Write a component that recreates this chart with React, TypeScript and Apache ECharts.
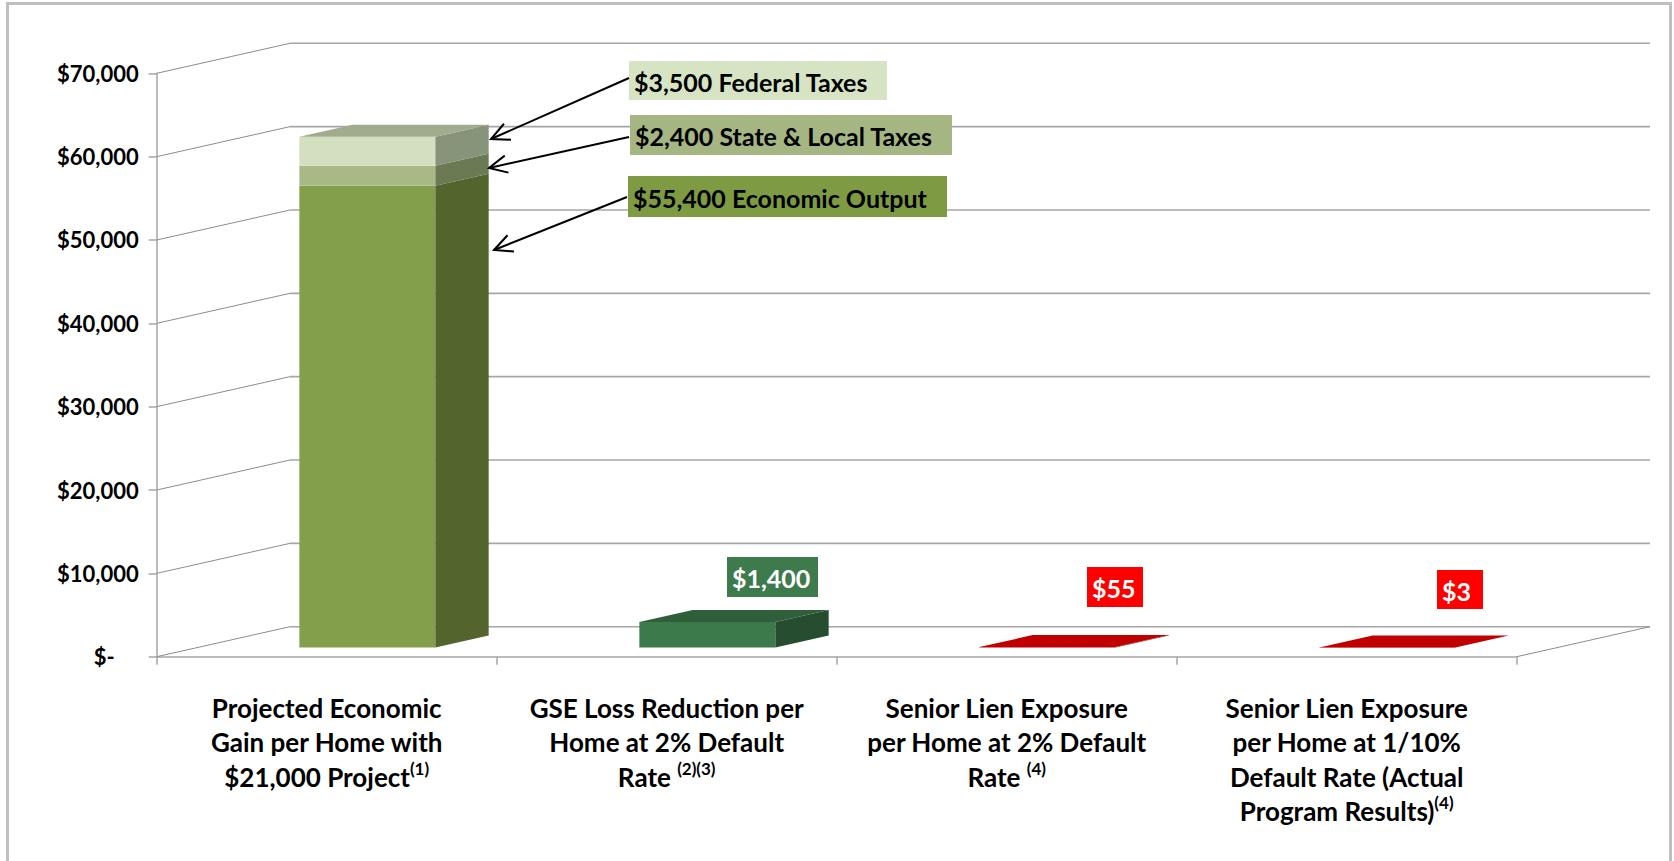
import { useEffect, useRef } from "react";
import * as echarts from "echarts";

// ---------- data ----------
const categoryLines: string[][] = [
  ["Projected Economic", "Gain per Home with", "$21,000 Project"],
  ["GSE Loss Reduction per", "Home at 2% Default", "Rate "],
  ["Senior Lien Exposure", "per Home at 2% Default", "Rate "],
  ["Senior Lien Exposure", "per Home at 1/10%", "Default Rate (Actual", "Program Results)"],
];
const categoryNotes = ["(1)", "(2)(3)", "(4)", "(4)"];
const categories = categoryLines.map((l) => l.join(" "));

const yTicks = [0, 10000, 20000, 30000, 40000, 50000, 60000, 70000];

const gainSegmentValues = [55400, 2400, 3500];
const gainSegmentLabels = ["$55,400 Economic Output", "$2,400 State & Local Taxes", "$3,500 Federal Taxes"];

const otherBarValues = [3070, 55, 3];
const otherBarLabels = ["$1,400", "$55", "$3"];

// ---------- style ----------
const FONT = "Lato";
const DX = 133.3; // depth offset of the back wall
const DY = -30;
const FRONT = 0.305; // bar front face depth fraction
const BDEPTH = 0.4; // bar depth fraction
const BWIDTH = 0.4; // bar width fraction of band

const segStyles = [
  { front: "#849f4b", side: "#53642d", top: "#6f8540" },
  { front: "#a8b986", side: "#6c7a53", top: "#8e9c72" },
  { front: "#d3dfbf", side: "#879479", top: "#a1ab8e" },
  { front: "#3c7a4b", side: "#264d2f", top: "#2f5f3a" },
  { front: "#c00000", side: "#8b0000", top: "#c00000" },
];

const gainBoxes = [
  { x: 628, y: 176, w: 319, h: 41, fill: "#7e9b43", color: "#000", ax: 627, ay: 197, tx: 494, ty: 250 },
  { x: 630, y: 115, w: 322, h: 40, fill: "#a5b682", color: "#000", ax: 629, ay: 137, tx: 489, ty: 168 },
  { x: 629, y: 61, w: 258, h: 39, fill: "#d7e4c4", color: "#000", ax: 629, ay: 78, tx: 491, ty: 139 },
];
const otherBoxes = [
  { x: 727, y: 557, w: 91, h: 40, fill: "#3e7b4c", color: "#fff" },
  { x: 1087, y: 567, w: 56, h: 40, fill: "#ff0000", color: "#fff" },
  { x: 1437, y: 570, w: 46, h: 39, fill: "#ff0000", color: "#fff" },
];

function arrow(x1: number, y1: number, x2: number, y2: number): any[] {
  const ang = Math.atan2(y1 - y2, x1 - x2);
  const L = 20;
  const a = 0.45;
  const p1 = [x2 + L * Math.cos(ang + a), y2 + L * Math.sin(ang + a)];
  const p2 = [x2 + L * Math.cos(ang - a), y2 + L * Math.sin(ang - a)];
  return [
    { type: "line", shape: { x1, y1, x2, y2 }, style: { stroke: "#000", lineWidth: 2 }, z: 100 },
    { type: "polyline", shape: { points: [p1, [x2, y2], p2] }, style: { stroke: "#000", lineWidth: 2, fill: null }, z: 100 },
  ];
}

function box(b: any, text: string): any[] {
  return [
    { type: "rect", shape: { x: b.x, y: b.y, width: b.w, height: b.h }, style: { fill: b.fill }, z: 90 },
    {
      type: "text",
      z: 91,
      style: {
        text,
        x: b.x + 5,
        y: b.y + b.h / 2 + 1,
        fill: b.color,
        font: `bold 25px ${FONT}`,
        textAlign: "left",
        textVerticalAlign: "middle",
      },
    },
  ];
}

export default function App() {
  const ref = useRef<HTMLDivElement>(null);
  useEffect(() => {
    if (!ref.current) return;
    const chart = echarts.init(ref.current, undefined, { renderer: "svg" });

    // bar segment data: [cat, base, top, styleIdx, isTop]
    const segData: number[][] = [];
    let acc = 0;
    gainSegmentValues.forEach((v, i) => {
      segData.push([0, acc, acc + v, i, i === gainSegmentValues.length - 1 ? 1 : 0]);
      acc += v;
    });
    otherBarValues.forEach((v, i) => {
      segData.push([i + 1, 0, v, i === 0 ? 3 : 4, 1]);
    });

    const graphics: any[] = [
      {
        type: "rect",
        shape: { x: 7.5, y: 3.5, width: 1663, height: 900 },
        style: { fill: "none", stroke: "#bfbfbf", lineWidth: 3 },
        z: 0,
      },
    ];
    gainBoxes.forEach((b, i) => {
      graphics.push(...box(b, gainSegmentLabels[i]));
      graphics.push(...arrow(b.ax, b.ay, b.tx, b.ty));
    });
    otherBoxes.forEach((b, i) => graphics.push(...box(b, otherBarLabels[i])));

    chart.setOption({
      animation: false,
      backgroundColor: "#fff",
      grid: { left: 156.7, right: 157.3, top: 73.3, bottom: 204.3, containLabel: false },
      xAxis: {
        type: "category",
        data: categories,
        axisLine: { lineStyle: { color: "#a6a6a6", width: 1.5 } },
        axisTick: { show: true, length: 8, lineStyle: { color: "#a6a6a6", width: 1.5 } },
        splitLine: { show: false },
        axisLabel: {
          interval: 0,
          margin: 34,
          formatter: (_v: string, idx: number) =>
            categoryLines[idx].map((l) => `{a|${l}}`).join("\n") + `{s|${categoryNotes[idx]}}`,
          rich: {
            a: { fontFamily: FONT, fontWeight: "bold", fontSize: 26, lineHeight: 34.5, color: "#000" },
            s: { fontFamily: FONT, fontWeight: "bold", fontSize: 17, lineHeight: 16, verticalAlign: "top", color: "#000" },
          },
        },
      },
      yAxis: {
        type: "value",
        min: 0,
        max: 70000,
        interval: 10000,
        axisLine: { show: true, lineStyle: { color: "#a6a6a6", width: 1.5 } },
        axisTick: { show: true, length: 8, lineStyle: { color: "#a6a6a6", width: 1.5 } },
        splitLine: { show: false },
        axisLabel: {
          margin: 18,
          color: "#000",
          fontFamily: FONT,
          fontWeight: "bold",
          fontSize: 22,
          formatter: (v: number) => (v === 0 ? "{z|$-}" : "$" + v.toLocaleString("en-US")),
          rich: {
            z: { fontFamily: FONT, fontWeight: "bold", fontSize: 22, color: "#000", padding: [0, 24, 0, 0] },
          },
        },
      },
      series: [
        {
          type: "custom",
          name: "wall",
          z: 1,
          silent: true,
          data: yTicks.map((v) => [0, v]),
          encode: { x: 0, y: 1 },
          renderItem: (params: any, api: any) => {
            const v = api.value(1);
            const cs = params.coordSys;
            const y = api.coord([0, v])[1];
            const children: any[] = [
              { type: "line", shape: { x1: cs.x, y1: y, x2: cs.x + DX, y2: y + DY }, style: { stroke: "#8c8c8c", lineWidth: 1 } },
              {
                type: "line",
                shape: { x1: cs.x + DX, y1: y + DY, x2: cs.x + cs.width + DX, y2: y + DY },
                style: { stroke: "#a6a6a6", lineWidth: 1.6 },
              },
            ];
            if (v === 0) {
              children.push({
                type: "line",
                shape: { x1: cs.x + cs.width, y1: y, x2: cs.x + cs.width + DX, y2: y + DY },
                style: { stroke: "#8c8c8c", lineWidth: 1 },
              });
            }
            return { type: "group", children };
          },
        },
        {
          type: "custom",
          name: "bars",
          z: 5,
          data: segData,
          encode: { x: 0, y: 2 },
          renderItem: (_params: any, api: any) => {
            const cat = api.value(0);
            const base = api.value(1);
            const top = api.value(2);
            const st = segStyles[api.value(3)];
            const isTop = api.value(4) === 1;
            const pb = api.coord([cat, base]);
            const pt = api.coord([cat, top]);
            const band = api.size([1, 0])[0];
            const w = band * BWIDTH;
            const cx = pb[0] + FRONT * DX;
            const x0 = cx - w / 2;
            const x1 = cx + w / 2;
            const yb = pb[1] + FRONT * DY;
            const yt = pt[1] + FRONT * DY;
            const ddx = BDEPTH * DX;
            const ddy = BDEPTH * DY;
            const children: any[] = [
              { type: "rect", shape: { x: x0, y: yt, width: w, height: Math.max(yb - yt, 0.3) }, style: { fill: st.front } },
              {
                type: "polygon",
                shape: { points: [[x1, yt], [x1 + ddx, yt + ddy], [x1 + ddx, yb + ddy], [x1, yb]] },
                style: { fill: st.side },
              },
            ];
            if (isTop) {
              children.push({
                type: "polygon",
                shape: { points: [[x0, yt], [x1, yt], [x1 + ddx, yt + ddy], [x0 + ddx, yt + ddy]] },
                style: { fill: st.top },
              });
            }
            return { type: "group", children };
          },
        },
      ],
      graphic: { elements: graphics },
    });
    return () => chart.dispose();
  }, []);
  return <div ref={ref} style={{ position: "absolute", left: 0, top: 0, width: 1674, height: 861 }} />;
}
